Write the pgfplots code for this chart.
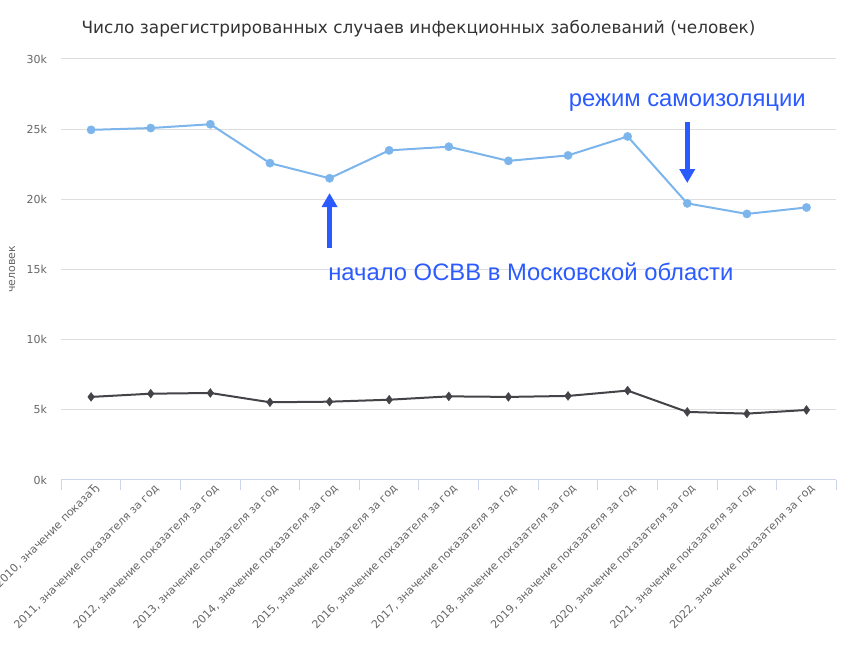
\documentclass[border=0pt]{standalone}
\usepackage{pgfplots}
\pgfplotsset{compat=1.18}
\usepackage{fontspec}
\setmainfont{DejaVu Sans}
\newfontfamily\annfont{Liberation Sans}
\usetikzlibrary{arrows.meta}
\definecolor{hcblue}{HTML}{7CB5EC}
\definecolor{hcblack}{HTML}{434348}
\definecolor{annblue}{HTML}{2B5BFF}
\definecolor{gridc}{HTML}{DEDEDE}
\definecolor{axisc}{HTML}{CCD6EB}
\definecolor{txtc}{HTML}{666666}
\definecolor{titlec}{HTML}{333333}
\begin{document}
\begin{tikzpicture}
\begin{axis}[
  at={(61.3pt,170pt)}, anchor=south west,
  scale only axis, width=775pt, height=421pt,
  xmin=-0.5, xmax=12.5, ymin=0, ymax=30000,
  axis x line*=bottom, axis y line*=left,
  x axis line style={draw=axisc, line width=1pt, -},
  y axis line style={draw=none},
  xtick={0,...,12},
  xticklabels={{2010, значение показаЂ},{2011, значение показателя за год},{2012, значение показателя за год},{2013, значение показателя за год},{2014, значение показателя за год},{2015, значение показателя за год},{2016, значение показателя за год},{2017, значение показателя за год},{2018, значение показателя за год},{2019, значение показателя за год},{2020, значение показателя за год},{2021, значение показателя за год},{2022, значение показателя за год}},
  minor xtick={-0.5,0.5,...,12.5},
  major tick length=0pt, minor tick length=10pt, tick align=outside,
  minor tick style={draw=axisc, line width=1pt},
  ytick={0,5000,...,30000},
  yticklabels={0k,5k,10k,15k,20k,25k,30k},
  scaled y ticks=false,
  ymajorgrids, major grid style={draw=gridc, line width=1pt},
  xticklabel style={rotate=45, anchor=east, inner sep=0pt, font=\fontsize{11}{13}\selectfont, text=txtc, xshift=0pt, yshift=-9pt},
  yticklabel style={anchor=east, inner sep=0pt, font=\fontsize{11}{13}\selectfont, text=txtc, xshift=-14pt},
  ylabel={человек},
  every axis y label/.style={at={(axis description cs:-0.0636,0.5)}, rotate=90, anchor=center, font=\fontsize{11}{13}\selectfont, text=txtc},
  clip=false,
]
\addplot[color=hcblue, line width=2pt, mark=*, mark size=4.2pt, mark options={solid, fill=hcblue, draw=hcblue, line width=0.3pt}] coordinates {
(0,24950) (1,25080) (2,25350) (3,22580) (4,21500) (5,23490) (6,23750) (7,22740) (8,23130) (9,24480) (10,19710) (11,18960) (12,19420)
};
\addplot[color=hcblack, line width=2pt, mark=diamond*, mark size=4.5pt, mark options={solid, fill=hcblack, draw=hcblack, line width=0.3pt}] coordinates {
(0,5920) (1,6150) (2,6200) (3,5540) (4,5580) (5,5720) (6,5960) (7,5920) (8,5990) (9,6370) (10,4850) (11,4730) (12,4990)
};
\draw[annblue, line width=5pt, -{Triangle[width=15pt,length=14pt]}] (axis cs:4,16530) -- (axis cs:4,20450);
\draw[annblue, line width=5pt, -{Triangle[width=15pt,length=14pt]}] (axis cs:10,25510) -- (axis cs:10,21160);
\node[anchor=base west, inner sep=0pt, text=annblue, font=\annfont\fontsize{23.8}{28}\selectfont] at (axis cs:3.975,14250) {начало ОСВВ в Московской области};
\node[anchor=base, inner sep=0pt, text=annblue, font=\annfont\fontsize{23.8}{28}\selectfont] at (axis cs:10,26620) {режим самоизоляции};
\end{axis}
\node[anchor=base, inner sep=0pt, text=titlec, font=\fontsize{16.9}{20}\selectfont] at (418.5pt,616pt) {Число зарегистрированных случаев инфекционных заболеваний (человек)};
\pgfresetboundingbox
\useasboundingbox (0,0) rectangle (854pt,650pt);
\end{tikzpicture}
\end{document}
